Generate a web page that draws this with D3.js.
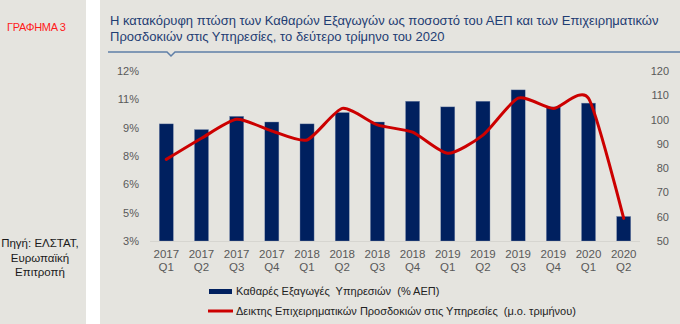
<!DOCTYPE html>
<html>
<head>
<meta charset="utf-8">
<script src="https://cdn.jsdelivr.net/npm/d3@7"></script>
<style>
  html, body { margin: 0; padding: 0; background: #ffffff; }
  svg { display: block; font-family: "Liberation Sans", Arial, sans-serif; }
  text { white-space: pre; }
</style>
</head>
<body>
<svg id="chart" width="680" height="324"></svg>
<script>
// Quarters shown on the x axis
const years    = ["2017","2017","2017","2017","2018","2018","2018","2018","2019","2019","2019","2019","2020","2020"];
const quarters = ["Q1","Q2","Q3","Q4","Q1","Q2","Q3","Q4","Q1","Q2","Q3","Q4","Q1","Q2"];

// Net exports of services, % of GDP (left axis)
const netExports = [9.2, 8.9, 9.6, 9.3, 9.2, 9.8, 9.3, 10.4, 10.1, 10.4, 11.0, 10.1, 10.3, 4.3];

// Services confidence indicator, quarterly average (right axis)
const confidence = [83.6, 92.3, 100.1, 95.3, 91.6, 104.6, 97.8, 94.8, 86.1, 93.6, 108.8, 104.6, 108.8, 59.3];

// Axis ticks
const leftTicks  = [3, 4.5, 6, 7.5, 9, 10.5, 12];
const rightTicks = [50, 60, 70, 80, 90, 100, 110, 120];

const titleLines = [
  "Η κατακόρυφη πτώση των Καθαρών Εξαγωγών ως ποσοστό του ΑΕΠ και των Επιχειρηματικών",
  "Προσδοκιών στις Υπηρεσίες, το δεύτερο τρίμηνο του 2020"
];
const sourceLines = ["Πηγή: ΕΛΣΤΑΤ,", "Ευρωπαϊκή", "Επιτροπή"];
const legendLabels = [
  "Καθαρές Εξαγωγές  Υπηρεσιών  (% ΑΕΠ)",
  "Δεικτης Επιχειρηματικών Προσδοκιών στις Υπηρεσίες  (μ.ο. τριμήνου)"
];

const svg = d3.select("#chart");
const bg = "#e5e4df";

// Side panel and main panel
svg.append("rect").attr("x", 0).attr("y", 0).attr("width", 86).attr("height", 324).attr("fill", bg);
svg.append("rect").attr("x", 100).attr("y", 0).attr("width", 580).attr("height", 324).attr("fill", bg);

svg.append("text").attr("x", 7).attr("y", 31)
  .attr("font-size", 11).attr("fill", "#ff1a1a").attr("letter-spacing", -0.3)
  .text("ΓΡΑΦΗΜΑ 3");

svg.append("g").selectAll("text").data(sourceLines).join("text")
  .attr("x", 40).attr("y", (d, i) => 247 + i * 14.5)
  .attr("text-anchor", "middle").attr("font-size", 11.5).attr("fill", "#1a1a1a")
  .text(d => d);

// Title
svg.append("g").selectAll("text").data(titleLines).join("text")
  .attr("x", 110).attr("y", (d, i) => 25 + i * 15.5)
  .attr("font-size", 13).attr("fill", "#1f3d73")
  .text(d => d);

// Rule under the title with its small notch
const ruleY = 52;
svg.append("path")
  .attr("d", `M108,${ruleY} H167 L171,${ruleY + 4} L175,${ruleY} H680`)
  .attr("fill", "none").attr("stroke", "#5f7fa8").attr("stroke-width", 1.5);

// Scales
const x = d3.scaleBand().domain(d3.range(years.length)).range([148.7, 641.3]).paddingInner(0.6).paddingOuter(0.3);
const yL = d3.scaleLinear().domain([3, 12]).range([241, 71]);
const yR = d3.scaleLinear().domain([50, 120]).range([241, 71]);

// Left axis labels (rounded to whole percent)
svg.append("g").selectAll("text").data(leftTicks).join("text")
  .attr("x", 139).attr("y", d => yL(d) + 4)
  .attr("text-anchor", "end").attr("font-size", 11).attr("fill", "#595959")
  .text(d => d3.format(".0f")(Math.round(d)) + "%");

// Right axis labels
svg.append("g").selectAll("text").data(rightTicks).join("text")
  .attr("x", 669).attr("y", d => yR(d) + 4)
  .attr("text-anchor", "end").attr("font-size", 11).attr("fill", "#595959")
  .text(d => d);

// Bars
svg.append("g").selectAll("rect").data(netExports).join("rect")
  .attr("x", (d, i) => x(i)).attr("width", x.bandwidth())
  .attr("y", d => yL(d)).attr("height", d => yL(3) - yL(d))
  .attr("fill", "#00205f").attr("stroke", "#7f8fb0").attr("stroke-width", 0.4);

// Baseline
svg.append("line").attr("x1", 150).attr("x2", 640).attr("y1", 241.5).attr("y2", 241.5)
  .attr("stroke", "#d6d5d0").attr("stroke-width", 1);

// Category labels
const cx = i => x(i) + x.bandwidth() / 2;
const cat = svg.append("g").selectAll("g").data(years).join("g");
cat.append("text").attr("x", (d, i) => cx(i)).attr("y", 258)
  .attr("text-anchor", "middle").attr("font-size", 11.5).attr("fill", "#595959").text(d => d);
cat.append("text").attr("x", (d, i) => cx(i)).attr("y", 271)
  .attr("text-anchor", "middle").attr("font-size", 11.5).attr("fill", "#595959").text((d, i) => quarters[i]);

// Confidence indicator line
const line = d3.line().x((d, i) => cx(i)).y(d => yR(d)).curve(d3.curveCardinal.tension(0.35));
svg.append("path").datum(confidence).attr("d", line)
  .attr("fill", "none").attr("stroke", "#cc0000").attr("stroke-width", 3)
  .attr("stroke-linejoin", "round").attr("stroke-linecap", "round");

// Legend
const lg = svg.append("g");
lg.append("rect").attr("x", 209).attr("y", 289).attr("width", 23).attr("height", 5).attr("fill", "#00205f");
lg.append("line").attr("x1", 208).attr("x2", 233).attr("y1", 311).attr("y2", 311)
  .attr("stroke", "#cc0000").attr("stroke-width", 3);
lg.selectAll("text").data(legendLabels).join("text")
  .attr("x", 236).attr("y", (d, i) => 295 + i * 20)
  .attr("font-size", 11).attr("fill", "#222222")
  .text(d => d);
</script>
</body>
</html>
